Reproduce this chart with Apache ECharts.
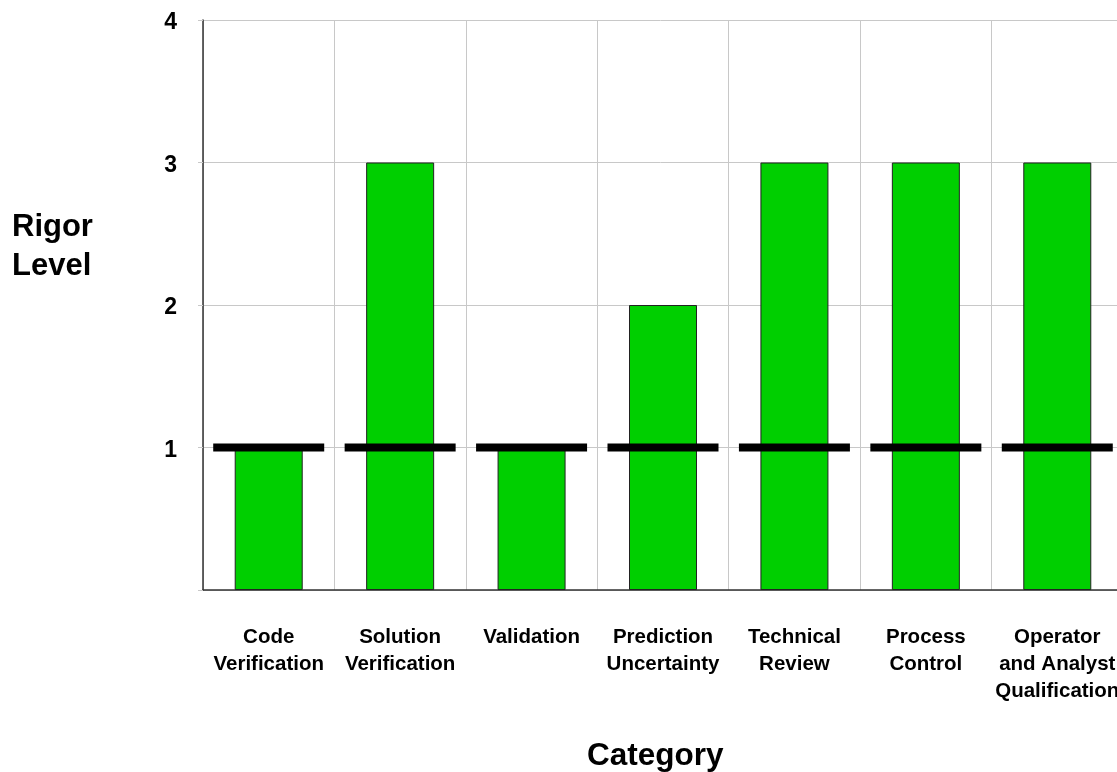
<!DOCTYPE html>
<html>
<head>
<meta charset="utf-8">
<script src="https://cdn.jsdelivr.net/npm/echarts@6/dist/echarts.min.js"></script>
<style>
  html, body { margin: 0; padding: 0; background: #fff; }
  #chart { width: 1117px; height: 772px; }
</style>
</head>
<body>
<div id="chart"></div>
<script>
// Assessment categories (line breaks as shown under the axis)
const categories = [
  'Code\nVerification',
  'Solution\nVerification',
  'Validation',
  'Prediction\nUncertainty',
  'Technical\nReview',
  'Process\nControl',
  'Operator\nand Analyst\nQualification'
];
// Achieved rigor level per category
const achievedLevel = [1, 3, 1, 2, 3, 3, 3];
// Required rigor level per category (black bars)
const requiredLevel = [1, 1, 1, 1, 1, 1, 1];
// Y axis ticks
const yTicks = [0, 1, 2, 3, 4];

const FONT = '"Liberation Sans", Arial, sans-serif';

const chart = echarts.init(document.getElementById('chart'), null, { renderer: 'canvas' });

chart.setOption({
  animation: false,
  backgroundColor: '#ffffff',
  // plot area runs a little past the right edge of the canvas
  grid: {
    left: 203, width: 920, top: 20, height: 570,
    containLabel: false,
    outerBoundsMode: 'none'
  },
  xAxis: {
    type: 'category',
    data: categories,
    boundaryGap: true,
    axisLine: { show: true, lineStyle: { color: '#333333', width: 1.5 } },
    axisTick: { show: false },
    splitLine: { show: true, lineStyle: { color: '#c8c8c8', width: 1 } },
    axisLabel: {
      interval: 0,
      margin: 34,
      fontFamily: FONT,
      fontWeight: 'bold',
      fontSize: 20.5,
      lineHeight: 27,
      color: '#000',
      align: 'center',
      hideOverlap: false
    }
  },
  yAxis: {
    type: 'value',
    min: yTicks[0],
    max: yTicks[yTicks.length - 1],
    interval: 1,
    axisLine: { show: true, lineStyle: { color: '#333333', width: 1.5 } },
    axisTick: { show: true, length: 5, lineStyle: { color: '#c8c8c8' } },
    splitLine: { show: true, lineStyle: { color: '#c8c8c8', width: 1 } },
    axisLabel: {
      margin: 26,
      formatter: v => (v === 0 ? '' : '{n|' + v + '}'),
      rich: {
        n: {
          fontFamily: FONT,
          fontWeight: 'bold',
          fontSize: 23,
          color: '#000',
          padding: [6, 0, 0, 0]
        }
      }
    }
  },
  series: [
    {
      type: 'bar',
      data: achievedLevel,
      barWidth: 68,
      itemStyle: { color: '#00cf00', borderColor: '#222222', borderWidth: 1 },
      z: 2
    },
    {
      type: 'scatter',
      data: requiredLevel.map((v, i) => [i, v]),
      symbol: 'rect',
      symbolSize: [111, 8],
      itemStyle: { color: '#000000', opacity: 1 },
      z: 5
    }
  ],
  graphic: [
    {
      type: 'text',
      left: 12,
      top: 208,
      style: {
        text: 'Rigor\nLevel',
        font: 'bold 31px ' + FONT,
        lineHeight: 39,
        fill: '#000'
      }
    },
    {
      type: 'text',
      left: 587,
      top: 740,
      style: {
        text: 'Category',
        font: 'bold 31.5px ' + FONT,
        fill: '#000'
      }
    }
  ]
});
</script>
</body>
</html>
